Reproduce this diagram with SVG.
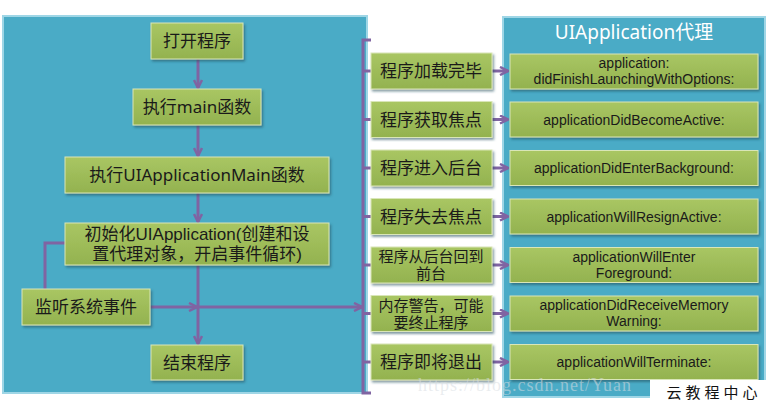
<svg xmlns="http://www.w3.org/2000/svg" width="769" height="404" viewBox="0 0 769 404">
<defs>
<linearGradient id="g" x1="0" y1="0" x2="0" y2="1">
<stop offset="0" stop-color="#a9c663"/>
<stop offset="1" stop-color="#93b24f"/>
</linearGradient>
<filter id="sh" x="-10%" y="-20%" width="125%" height="150%">
<feDropShadow dx="1.5" dy="2" stdDeviation="1.2" flood-color="#1d4d5a" flood-opacity="0.55"/>
</filter>
<marker id="ah" viewBox="0 0 10 10" refX="9" refY="5" markerWidth="10" markerHeight="10" markerUnits="userSpaceOnUse" orient="auto">
<path d="M1,1 L9,5 L1,9" fill="none" stroke="#8064a2" stroke-width="2.5"/>
</marker>
<style>
.panel{fill:#4aabc6;stroke:#9fd6e6;stroke-width:2;}
.node{fill:url(#g);stroke:#d9e6b8;stroke-width:1;filter:url(#sh);}
.cn{font-family:"Noto Sans","Noto Sans CJK SC",sans-serif;font-size:17px;fill:#1a1a1a;text-anchor:middle;}
.cnm{font-family:"Liberation Sans","Noto Sans CJK SC",sans-serif;font-size:17px;fill:#1a1a1a;text-anchor:middle;}
.cn2{font-family:"Liberation Sans","Noto Sans CJK SC",sans-serif;font-size:15px;fill:#1a1a1a;text-anchor:middle;}
.en{font-family:"Liberation Sans",sans-serif;font-size:14px;fill:#1a1a1a;text-anchor:middle;}
.ln{fill:none;stroke:#8064a2;stroke-width:3;}
.ar{fill:none;stroke:#8064a2;stroke-width:3;marker-end:url(#ah);}
</style>
</defs>
<rect width="769" height="404" fill="#ffffff"/>
<g id="left-panel"><rect class="panel" x="3" y="16" width="364" height="377"/></g>
<g id="right-panel">
<rect class="panel" x="503" y="17" width="262" height="380"/>
<text x="634" y="39" font-family="'Noto Sans','Noto Sans CJK SC',sans-serif" font-size="19" fill="#ffffff" text-anchor="middle">UIApplication代理</text>
</g>

<g id="connectors">
<line class="ar" x1="198" y1="59" x2="198" y2="88"/>
<line class="ar" x1="198" y1="125" x2="198" y2="156"/>
<line class="ar" x1="198" y1="193" x2="198" y2="222"/>
<line class="ar" x1="198" y1="265" x2="198" y2="344"/>
<line class="ar" x1="150" y1="307" x2="197" y2="307"/>
<line class="ar" x1="198" y1="307" x2="362" y2="307"/>
<path class="ln" d="M45,289 V243 H65"/>
<path class="ln" d="M371,40 H363 V393 H371"/>
<line class="ln" x1="363" y1="71" x2="371" y2="71"/>
<line class="ln" x1="363" y1="119.5" x2="371" y2="119.5"/>
<line class="ln" x1="363" y1="168" x2="371" y2="168"/>
<line class="ln" x1="363" y1="216.5" x2="371" y2="216.5"/>
<line class="ln" x1="363" y1="265" x2="371" y2="265"/>
<line class="ln" x1="363" y1="313.5" x2="371" y2="313.5"/>
<line class="ln" x1="363" y1="362" x2="371" y2="362"/>
<line class="ar" x1="492" y1="71" x2="508" y2="71"/>
<line class="ar" x1="492" y1="119.5" x2="508" y2="119.5"/>
<line class="ar" x1="492" y1="168" x2="508" y2="168"/>
<line class="ar" x1="492" y1="216.5" x2="508" y2="216.5"/>
<line class="ar" x1="492" y1="265" x2="508" y2="265"/>
<line class="ar" x1="492" y1="313.5" x2="508" y2="313.5"/>
<line class="ar" x1="492" y1="362" x2="508" y2="362"/>
</g>

<g id="n-open"><rect class="node" x="151" y="23" width="92" height="36"/><text class="cn" x="197" y="47">打开程序</text></g>
<g id="n-main"><rect class="node" x="133" y="89" width="128" height="36"/><text class="cn" x="197" y="113">执行main函数</text></g>
<g id="n-uimain"><rect class="node" x="65" y="157" width="264" height="36"/><text class="cn" x="197" y="181">执行UIApplicationMain函数</text></g>
<g id="n-init"><rect class="node" x="65" y="223" width="264" height="42"/><text class="cnm" x="197" y="240">初始化UIApplication(创建和设</text><text class="cnm" x="197" y="260">置代理对象，开启事件循环)</text></g>
<g id="n-listen"><rect class="node" x="22" y="289" width="128" height="36"/><text class="cn" x="86" y="313">监听系统事件</text></g>
<g id="n-end"><rect class="node" x="151" y="345" width="92" height="35"/><text class="cn" x="197" y="369">结束程序</text></g>

<g id="s1"><rect class="node" x="371" y="53" width="121" height="36"/><text class="cn" x="431" y="77">程序加载完毕</text></g>
<g id="s2"><rect class="node" x="371" y="101.5" width="121" height="36"/><text class="cn" x="431" y="125.5">程序获取焦点</text></g>
<g id="s3"><rect class="node" x="371" y="150" width="121" height="36"/><text class="cn" x="431" y="174">程序进入后台</text></g>
<g id="s4"><rect class="node" x="371" y="198.5" width="121" height="36"/><text class="cn" x="431" y="222.5">程序失去焦点</text></g>
<g id="s5"><rect class="node" x="371" y="247" width="121" height="36"/><text class="cn2" x="431" y="262">程序从后台回到</text><text class="cn2" x="431" y="279">前台</text></g>
<g id="s6"><rect class="node" x="371" y="295.5" width="121" height="36"/><text class="cn2" x="431" y="310.5">内存警告，可能</text><text class="cn2" x="431" y="327.5">要终止程序</text></g>
<g id="s7"><rect class="node" x="371" y="344" width="121" height="36"/><text class="cn" x="431" y="368">程序即将退出</text></g>

<g id="d1"><rect class="node" x="510" y="54" width="248" height="35"/><text class="en" x="634" y="68">application:</text><text class="en" x="634" y="84">didFinishLaunchingWithOptions:</text></g>
<g id="d2"><rect class="node" x="510" y="102" width="248" height="35"/><text class="en" x="634" y="124.5">applicationDidBecomeActive:</text></g>
<g id="d3"><rect class="node" x="510" y="150.5" width="248" height="35"/><text class="en" x="634" y="173">applicationDidEnterBackground:</text></g>
<g id="d4"><rect class="node" x="510" y="199" width="248" height="35"/><text class="en" x="634" y="221.5">applicationWillResignActive:</text></g>
<g id="d5"><rect class="node" x="510" y="247.5" width="248" height="35"/><text class="en" x="634" y="261.5">applicationWillEnter</text><text class="en" x="634" y="277.5">Foreground:</text></g>
<g id="d6"><rect class="node" x="510" y="296" width="248" height="35"/><text class="en" x="634" y="310">applicationDidReceiveMemory</text><text class="en" x="634" y="326">Warning:</text></g>
<g id="d7"><rect class="node" x="510" y="344.5" width="248" height="35"/><text class="en" x="634" y="367">applicationWillTerminate:</text></g>

<text x="418" y="391" font-family="'Liberation Serif',serif" font-size="18" fill="#d8dde2" fill-opacity="0.55" letter-spacing="1">https://blog.csdn.net/Yuan</text>
<g id="logo"><rect x="650" y="380" width="119" height="24" fill="#ffffff"/><text x="714" y="398" font-family="'Noto Sans CJK SC',sans-serif" font-size="15" fill="#111111" text-anchor="middle" letter-spacing="4">云教程中心</text></g>
</svg>
